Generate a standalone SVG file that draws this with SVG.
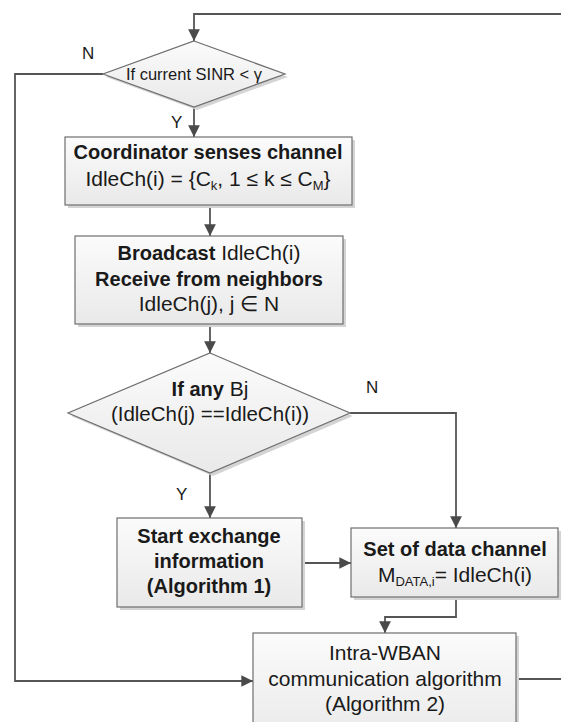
<svg xmlns="http://www.w3.org/2000/svg" width="561" height="722" viewBox="0 0 561 722">
  <style>
    .node { stroke: #6e6e6e; stroke-width: 1.2; fill: url(#boxFill); }
    .shadow { fill: #d4d4d4; stroke: none; }
    .txt { font-family: "Liberation Sans", Arial, sans-serif; font-size: 21px; fill: #1a1a1a; text-anchor: middle; }
    .b { font-weight: bold; font-size: 20px; }
    .lbl { font-family: "Liberation Sans", Arial, sans-serif; font-size: 17px; fill: #1a1a1a; }
    .sub { font-size: 13px; }
    .conn { fill: none; stroke: #555555; stroke-width: 1.8; }
  </style>
  <defs>
    <linearGradient id="boxFill" x1="0" y1="0" x2="0" y2="1">
      <stop offset="0" stop-color="#fbfbfb"/>
      <stop offset="1" stop-color="#e9e9e9"/>
    </linearGradient>
    <marker id="arrow" viewBox="0 0 10 10" refX="10" refY="5" markerWidth="6.5" markerHeight="6.5" markerUnits="strokeWidth" orient="auto">
      <path d="M0,0 L10,5 L0,10 Z" fill="#4a4a4a"/>
    </marker>
  </defs>

  <!-- connectors -->
  <g id="connectors">
    <path class="conn" d="M561,14 H194 V41" marker-end="url(#arrow)"/>
    <path class="conn" d="M194,107 V137" marker-end="url(#arrow)"/>
    <path class="conn" d="M210,205 V236" marker-end="url(#arrow)"/>
    <path class="conn" d="M210,324 V353" marker-end="url(#arrow)"/>
    <path class="conn" d="M210,473 V518" marker-end="url(#arrow)"/>
    <path class="conn" d="M350,413 H456 V528" marker-end="url(#arrow)"/>
    <path class="conn" d="M302,563 H351" marker-end="url(#arrow)"/>
    <path class="conn" d="M456,597 V617 H385 V633" marker-end="url(#arrow)"/>
    <path class="conn" d="M103,74 H15 V681 H253" marker-end="url(#arrow)"/>
    <path class="conn" d="M516,679 H561"/>
    <text class="lbl" x="82" y="59">N</text>
    <text class="lbl" x="171" y="128">Y</text>
    <text class="lbl" x="366" y="393">N</text>
    <text class="lbl" x="176" y="500">Y</text>
  </g>

  <!-- decision: SINR check -->
  <g id="decision-sinr">
    <polygon class="shadow" points="197,44 288,77 197,110 106,77"/>
    <polygon class="node" points="194,41 285,74 194,107 103,74"/>
    <text class="txt" x="194" y="80" style="font-size:16.5px">If current SINR &lt; γ</text>
  </g>

  <!-- coordinator senses channel -->
  <g id="sense-channel">
    <rect class="shadow" x="68" y="140" width="287" height="68"/>
    <rect class="node" x="65" y="137" width="287" height="68"/>
    <text class="txt b" x="208" y="159">Coordinator senses channel</text>
    <text class="txt" x="208" y="186">IdleCh(i) = {C<tspan class="sub" dy="4">k</tspan><tspan dy="-4">, 1 ≤ k ≤ C</tspan><tspan class="sub" dy="4">M</tspan><tspan dy="-4">}</tspan></text>
  </g>

  <!-- broadcast / receive -->
  <g id="broadcast">
    <rect class="shadow" x="78" y="239" width="268" height="88"/>
    <rect class="node" x="75" y="236" width="268" height="88"/>
    <text class="txt" x="209" y="260"><tspan class="b">Broadcast</tspan> IdleCh(i)</text>
    <text class="txt b" x="209" y="286">Receive from neighbors</text>
    <text class="txt" x="209" y="311">IdleCh(j), j ∈ N</text>
  </g>

  <!-- decision: matching channel sets -->
  <g id="decision-match">
    <polygon class="shadow" points="213,356 353,416 213,476 71,416"/>
    <polygon class="node" points="210,353 350,413 210,473 68,413"/>
    <text class="txt" x="210" y="396"><tspan class="b">If any</tspan> Bj</text>
    <text class="txt" x="210" y="421" style="font-size:20.5px">(IdleCh(j) ==IdleCh(i))</text>
  </g>

  <!-- start exchange information -->
  <g id="exchange">
    <rect class="shadow" x="120" y="521" width="185" height="89"/>
    <rect class="node" x="117" y="518" width="185" height="89"/>
    <text class="txt b" x="209" y="543">Start exchange</text>
    <text class="txt b" x="209" y="568">information</text>
    <text class="txt b" x="209" y="593">(Algorithm 1)</text>
  </g>

  <!-- set of data channel -->
  <g id="data-channel">
    <rect class="shadow" x="354" y="531" width="207" height="69"/>
    <rect class="node" x="351" y="528" width="207" height="69"/>
    <text class="txt b" x="455" y="556">Set of data channel</text>
    <text class="txt" x="455" y="582">M<tspan class="sub" dy="4">DATA,i</tspan><tspan dy="-4">= IdleCh(i)</tspan></text>
  </g>

  <!-- intra-WBAN communication -->
  <g id="intra-wban">
    <rect class="shadow" x="256" y="636" width="263" height="110"/>
    <rect class="node" x="253" y="633" width="263" height="110"/>
    <text class="txt" x="385" y="660">Intra-WBAN</text>
    <text class="txt" x="385" y="686">communication algorithm</text>
    <text class="txt" x="385" y="711">(Algorithm 2)</text>
  </g>
</svg>
